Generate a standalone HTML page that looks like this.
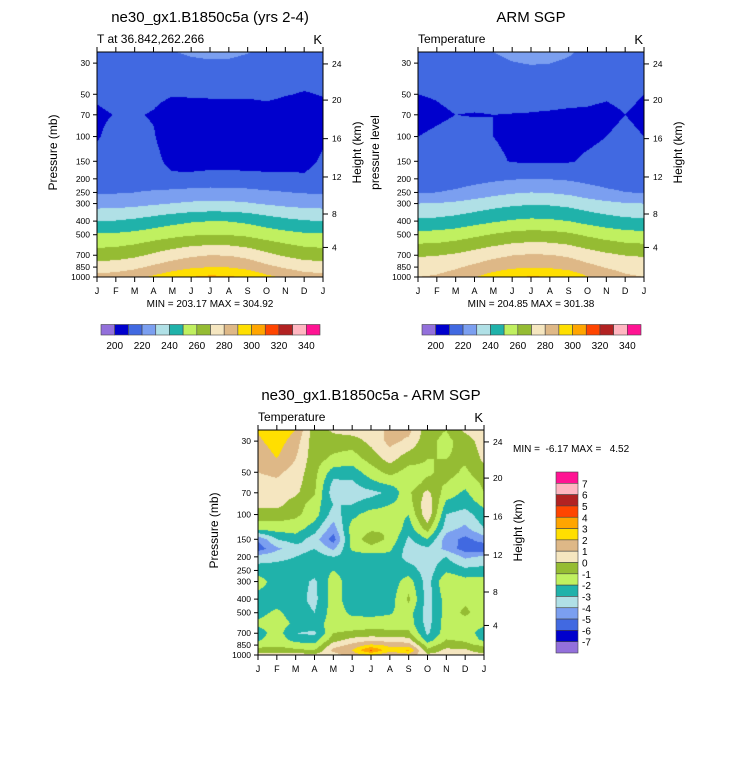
<!DOCTYPE html>
<html><head><meta charset="utf-8">
<style>
html,body{margin:0;padding:0;background:#fff;}
#root{position:relative;width:733px;height:766px;overflow:hidden;font-family:"Liberation Sans",sans-serif;}
canvas{position:absolute;}
svg{position:absolute;left:0;top:0;}
text{white-space:pre;}
</style></head>
<body>
<div id="root">
<canvas id="c1" width="226" height="225" style="left:97px;top:52px"></canvas>
<canvas id="c2" width="226" height="225" style="left:418px;top:52px"></canvas>
<canvas id="c3" width="226" height="225" style="left:258px;top:430px"></canvas>
<svg id="ov" width="733" height="766"></svg>
</div>
<script>
const months = ["J","F","M","A","M","J","J","A","S","O","N","D","J"];
const pTicks = [30,50,70,100,150,200,250,300,400,500,700,850,1000];
const hTicks = [24,20,16,12,8,4];
const hTickP = [30.4,55,103.5,194,356,616];
const tempColors = ["#9370db","#0000cd","#4169e1","#7b9ff0","#b0e0e6","#20b2aa","#c0f060","#95bc33","#f5e6c0","#deb887","#ffdf00","#ffa500","#ff4500","#b22222","#ffb6c1","#ff1493"];
const tempBounds = [200,210,220,230,240,250,260,270,280,290,300,310,320,330,340];
const tempLabels = [200,220,240,260,280,300,320,340];
const diffBounds = [-7,-6,-5,-4,-3,-2,-1,0,1,2,3,4,5,6,7];
const diffLabels = [7,6,5,4,3,2,1,0,-1,-2,-3,-4,-5,-6,-7];

const tLevels = [25,30,50,70,100,150,200,250,300,400,500,700,850,1000];
const modelT = [
[214,214.4,215.6,217.6,219.6,221.2,222,221.8,220.4,218,216,214.6,214],
[213,213.3,214.2,215.7,217.2,218.4,219,218.8,217.8,216,214.5,213.4,213],
[211,212,213,211.5,210.4,210.6,210.8,210.8,210.8,211.5,210.3,209.6,210.3],
[209,210.2,210.5,209.5,207,207,207,207,207,207,207,207,208],
[209.5,212,212,210.5,206,205,205,205,205,205,205,206,209],
[212,213,213,212,208,207,207,207,207,207,207,208,211],
[214,214.5,214.5,213,211.5,212,213,213,212.5,212,212,211,213],
[219,219.3,220,221.3,222.5,223.5,224,223.9,223,221.5,220.3,219.4,219],
[226,226.3,227.2,228.7,230.2,231.4,232,231.8,230.8,229,227.5,226.4,226],
[240,240.5,242,244.5,247,249,250,249.7,248,245,242.5,240.7,240],
[251,251.5,252.8,255,257.3,259.1,260,259.7,258.2,255.5,253.3,251.6,251],
[265,265.8,268,271.8,275.5,278.5,280,279.6,277,272.5,268.8,266,265],
[275,275.8,278,281.8,285.5,288.5,290,289.6,287,282.5,278.8,276,275],
[283,284,286.8,291.6,296.3,300.1,302,301.4,298.2,292.5,287.8,284.3,283]];
const armT = [
[213,213.5,215,217.5,220,222,223,222.5,221,218,215.5,213.7,213],
[212,212.4,213.7,215.8,217.9,219.6,220.5,220.1,218.8,216.3,214.1,212.6,212],
[210,210.5,211.5,211.5,211.5,211.5,211.5,211.5,211.5,211.5,210.8,211.5,210],
[208,209,210,209.8,210,209.9,209.8,209.6,209.3,209,208.5,210,208.5],
[210,211,212,211.5,210,208,207.5,207.5,208,208.5,210,211.5,210],
[213,214,214,213.5,212,209.4,209,209,209.3,211.2,212.5,213,213],
[214,214.3,215.2,216.7,218.2,219.4,220,219.7,218.8,217,215.5,214.4,214],
[219.5,220,221.6,224.2,226.9,229,230,229.5,227.9,224.8,222.1,220.2,219.5],
[230,230.5,231.8,234,236.3,238.1,239,238.6,237.2,234.5,232.3,230.6,230],
[242,242.5,244,246.5,249,251,252,251.5,250,247,244.5,242.7,242],
[253,253.6,255.2,258,260.7,262.9,264,263.5,261.8,258.5,255.8,253.8,253],
[269,269.6,271.4,274.4,277.4,279.8,281,280.4,278.6,275,272,269.8,269],
[276,276.7,278.7,282.1,285.5,288.2,289.5,288.8,286.8,282.8,279.4,277,276],
[280,281,284.2,289.5,294.7,298.9,301,300,296.8,290.5,285.3,281.5,280]];
const dLevels = [25,30,40,50,60,70,85,100,125,150,175,200,250,300,400,500,600,700,775,850,925,1000];
// columns J..J, each array lists a month top to bottom
const diffCols = [
[2.1,1.8,1.3,1.0,0.7,0.5,0.2,-0.5,-1.5,-4.8,-5.6,-3.5,-2.5,-1.5,-2.5,-2.3,-1.8,-2.5,-2.2,-1.5,-0.5,0.5],
[2.8,2.5,2.0,1.2,0.8,0.5,0.3,-0.5,-1.5,-3.0,-4.2,-3.3,-2.5,-2.5,-2.5,-1.8,-1.5,-1.5,-1.3,-1.2,-0.5,0.3],
[2.0,1.5,1.0,0.6,0.4,0.2,-0.5,-0.8,-1.5,-2.5,-3.5,-3.0,-2.5,-2.5,-2.6,-2.5,-2.2,-3.0,-2.5,-1.5,-0.8,0.5],
[-0.6,-0.6,-0.6,-0.7,-0.8,-0.9,-1.5,-1.5,-2.5,-3.5,-3.0,-2.5,-2.5,-3.2,-3.3,-3.0,-2.5,-3.2,-2.5,-1.8,-1.0,0.3],
[0.2,-0.5,-1.2,-2.5,-3.3,-3.6,-3.0,-3.5,-4.5,-5.5,-4.2,-3.0,-2.0,-1.5,-1.5,-1.5,-1.5,-1.0,-0.5,0.5,1.3,0.5],
[0.5,-0.5,-1.5,-2.5,-3.2,-3.5,-3.0,-2.3,-1.5,-1.5,-1.8,-2.5,-2.5,-2.6,-2.6,-2.2,-1.5,-0.8,0.3,1.3,2.0,1.5],
[0.6,0.3,-0.6,-1.5,-2.3,-3.3,-2.5,-1.5,-1.2,-0.5,-1.3,-2.5,-2.6,-2.7,-2.7,-2.3,-1.5,-0.6,0.6,2.2,4.2,2.0],
[1.2,1.3,0.4,-0.7,-1.8,-2.8,-2.0,-1.5,-1.0,-1.2,-1.8,-2.3,-2.5,-2.6,-2.5,-2.1,-1.5,-0.7,0.4,1.8,2.3,1.2],
[1.3,0.8,-0.6,-1.4,-1.6,-1.2,-1.5,-2.0,-2.5,-3.2,-3.5,-3.4,-2.5,-1.5,-0.8,-1.5,-1.5,-0.7,0.3,1.5,3.2,1.5],
[-0.6,-0.7,-1.0,-1.2,-0.7,0.3,0.8,0.8,-0.5,-2.0,-3.2,-3.5,-3.5,-3.5,-3.5,-3.5,-3.4,-3.2,-2.6,-1.5,-0.8,0.3],
[-1.0,-1.3,-1.0,-0.6,-1.0,-1.5,-2.3,-3.0,-3.6,-4.5,-4.3,-3.0,-2.2,-1.0,-1.5,-1.5,-1.5,-1.4,-1.0,-0.5,0.3,0.4],
[0.2,-0.5,-0.8,-1.2,-1.7,-2.2,-2.6,-3.5,-4.2,-5.3,-5.5,-4.2,-2.7,-1.6,-1.2,-0.8,-1.5,-1.5,-1.2,-0.7,0.2,0.5],
[0.8,0.5,0.2,-0.3,-0.8,-1.0,-1.8,-2.3,-3.0,-4.5,-5.8,-3.8,-2.6,-1.5,-1.5,-1.5,-1.8,-2.5,-2.3,-1.2,-0.6,0.3]];

const W=226,H=225,LP0=Math.log10(25),LP1=Math.log10(1000);
function yOf(p){return (Math.log10(p)-LP0)/(LP1-LP0)*H;}
function hex(c){return [parseInt(c.substr(1,2),16),parseInt(c.substr(3,2),16),parseInt(c.substr(5,2),16)];}
const rgb = tempColors.map(hex);
function fill(id, levels, get, bounds){
  const cv=document.getElementById(id),ctx=cv.getContext('2d');
  const img=ctx.createImageData(W,H);
  const ly=levels.map(p=>Math.log10(p));
  for(let py=0;py<H;py++){
    const lp=LP0+(py+0.5)/H*(LP1-LP0);
    let r=0; while(r<levels.length-2 && ly[r+1]<lp) r++;
    let t=(lp-ly[r])/(ly[r+1]-ly[r]); t=Math.max(0,Math.min(1,t));
    for(let px=0;px<W;px++){
      const mx=(px+0.5)/W*12; let c=Math.min(11,Math.floor(mx)); const s=mx-c;
      const v=(get(r,c)*(1-s)+get(r,c+1)*s)*(1-t)+(get(r+1,c)*(1-s)+get(r+1,c+1)*s)*t;
      let k=0; while(k<bounds.length && v>=bounds[k]) k++;
      const col=rgb[k],i=(py*W+px)*4;
      img.data[i]=col[0];img.data[i+1]=col[1];img.data[i+2]=col[2];img.data[i+3]=255;
    }
  }
  ctx.putImageData(img,0,0);
}
fill('c1',tLevels,(r,c)=>modelT[r][c],tempBounds);
fill('c2',tLevels,(r,c)=>armT[r][c],tempBounds);
fill('c3',dLevels,(r,c)=>diffCols[c][r],diffBounds);

const NS="http://www.w3.org/2000/svg",ov=document.getElementById('ov');
function el(tag,attrs,txt){const e=document.createElementNS(NS,tag);for(const k in attrs)e.setAttribute(k,attrs[k]);if(txt!==undefined)e.textContent=txt;ov.appendChild(e);return e;}
function txt(x,y,s,size,anchor,name,rot){
  const a={x:x,y:y,'font-size':size,'text-anchor':anchor||'start','font-family':'Liberation Sans, sans-serif',fill:'#000'};
  if(rot) a.transform='rotate(-90 '+x+' '+y+')';
  const e=el('text',a,s);
  
  
  return e;
}
function axes(x0,y0,title,sub,leftTitle,ltx,minmax){
  const f=el('rect',{x:x0,y:y0,width:W,height:H,fill:'none',stroke:'#000','stroke-width':1});
  
  
  for(let m=0;m<13;m++){
    const x=x0+m*W/12;
    el('line',{x1:x,y1:y0,x2:x,y2:y0-5,stroke:'#000'});
    el('line',{x1:x,y1:y0+H,x2:x,y2:y0+H+5,stroke:'#000'});
    txt(x,y0+H+17,months[m],9,'middle','month-tick-label');
  }
  pTicks.forEach(p=>{const y=y0+yOf(p);
    el('line',{x1:x0,y1:y,x2:x0-4,y2:y,stroke:'#000'});
    txt(x0-7,y+3,String(p),8.5,'end','pressure-tick-label');});
  hTicks.forEach((h,i)=>{const y=y0+yOf(hTickP[i]);
    el('line',{x1:x0+W,y1:y,x2:x0+W+5,y2:y,stroke:'#000'});
    txt(x0+W+9,y+3,String(h),8.5,'start','height-tick-label');});
  txt(ltx,y0+H/2-12,leftTitle,12,'middle','left-axis-title',true);
  txt(x0+W+38,y0+H/2-12,'Height (km)',12,'middle','right-axis-title',true);
  txt(x0+W/2,y0-30,title,15,'middle','plot-title');
  txt(x0,y0-9,sub,12,'start','plot-subtitle');
  txt(x0+W-1,y0-8,'K',13,'end','units-label');
  if(minmax) txt(x0+W/2,y0+H+30,minmax,10,'middle','min-max-label');
}
axes(97,52,'ne30_gx1.B1850c5a (yrs 2-4)','T at 36.842,262.266','Pressure (mb)',57,'MIN = 203.17 MAX = 304.92');
axes(418,52,'ARM SGP','Temperature','pressure level',379,'MIN = 204.85 MAX = 301.38');
axes(258,430,'ne30_gx1.B1850c5a - ARM SGP','Temperature','Pressure (mb)',218,null);
txt(513,452,'MIN =  -6.17 MAX =   4.52',10,'start','diff-min-max-label');

function hbar(x0){
  const bw=219/16;
  tempColors.forEach((c,i)=>{const r=el('rect',{x:x0+i*bw,y:324.5,width:bw,height:10.5,fill:c,stroke:'#444','stroke-width':0.6});
    
    });
  tempLabels.forEach((l,i)=>txt(x0+(1+2*i)*bw,349,String(l),10,'middle','colorbar-label'));
}
hbar(101); hbar(422);
const bh=181/16;
tempColors.slice().reverse().forEach((c,i)=>{const r=el('rect',{x:556,y:472+i*bh,width:22,height:bh,fill:c,stroke:'#444','stroke-width':0.6});
  
  });
diffLabels.forEach((l,i)=>txt(582,472+(i+1)*bh+4,String(l),10,'start','diff-colorbar-label'));
</script>
</body></html>
